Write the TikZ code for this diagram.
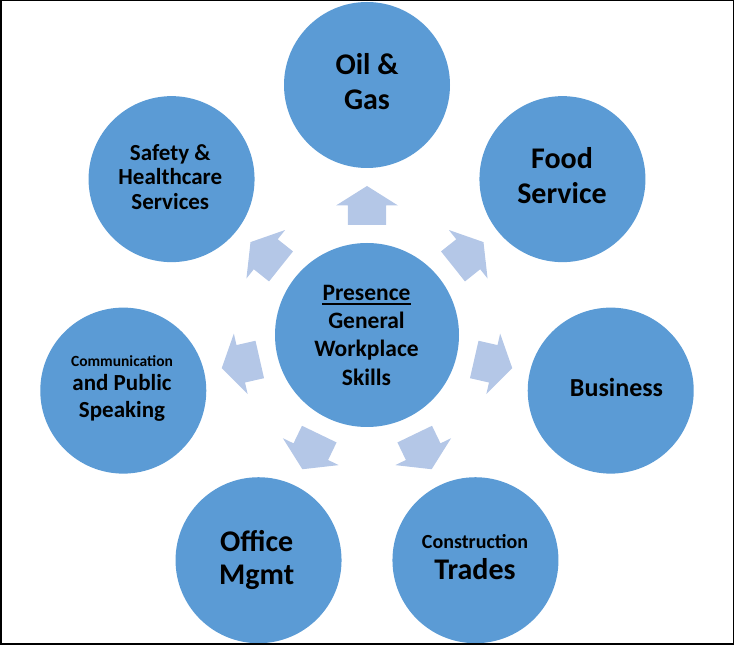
\documentclass[tikz,border=0pt]{standalone}
\usepackage{fontspec}
\setmainfont{Carlito}
\definecolor{cblue}{HTML}{5B9BD5}
\definecolor{ablue}{HTML}{B4C7E7}
\newcommand\fsz[1]{\fontsize{#1}{#1}\selectfont\bfseries}
\begin{document}
\begin{tikzpicture}[x=1pt,y=1pt,
  bubble/.style={circle, fill=cblue, inner sep=0pt, minimum size=166pt},
  hub/.style={circle, fill=cblue, inner sep=0pt, minimum size=184pt},
  txt/.style={inner sep=0pt, anchor=base, text=black},
  blockarrow/.style={fill=ablue}]
\useasboundingbox (0,0) rectangle (734,645);
\coordinate (c) at (367,310);
\node[hub] (hub) at (c) {};
\foreach \n/\a in {oil/90, food/38.571, bus/-12.857, con/-64.286, off/-115.714, com/-167.143, saf/141.429} {
  \path (c) ++(\a:250) node[bubble] (\n) {};
  \begin{scope}[shift={(c)}, rotate=\a]
    \fill[blockarrow] (110,-19.2) -- (129.5,-19.2) -- (129.5,-31) -- (149,0)
      -- (129.5,31) -- (129.5,19.2) -- (110,19.2) -- cycle;
  \end{scope}
}
% Oil & Gas
\node[txt, font=\fsz{30}] (oilA) at (367,570.7) {Oil \&};
\node[txt, font=\fsz{30}] (oilB) at (367,535.7) {Gas};
% Food Service
\node[txt, font=\fsz{30}] (foodA) at (562,476.7) {Food};
\node[txt, font=\fsz{30}] (foodB) at (562,441.7) {Service};
% Safety
\node[txt, font=\fsz{23}] (safA) at (170.3,484.5) {Safety \&};
\node[txt, font=\fsz{23}] (safB) at (170.3,460) {Healthcare};
\node[txt, font=\fsz{23}] (safC) at (170.3,435.5) {Services};
% Business
\node[txt, font=\fsz{26}] (busA) at (616.5,248.3) {Business};
% Communication
\node[txt, font=\fsz{15.5}] (comA) at (122,278.3) {Communication};
\node[txt, font=\fsz{23}] (comB) at (122,254.3) {and Public};
\node[txt, font=\fsz{23}] (comC) at (122,227.7) {Speaking};
% Office Mgmt
\node[txt, font=\fsz{30}] (offA) at (256.7,93.3) {Office};
\node[txt, font=\fsz{30}] (offB) at (256.7,60) {Mgmt};
% Construction Trades
\node[txt, font=\fsz{20}] (conA) at (475,96) {Construction};
\node[txt, font=\fsz{30}] (conB) at (475,65) {Trades};
% Centre
\node[txt, font=\fsz{23.5}] (pres) at (366.5,344) {Presence};
\draw[line width=1.6pt] ([yshift=-3pt]pres.base west) -- ([yshift=-3pt]pres.base east);
\node[txt, font=\fsz{23.5}] (hubB) at (366.5,316) {General};
\node[txt, font=\fsz{23.5}] (hubC) at (366.5,288.3) {Workplace};
\node[txt, font=\fsz{23.5}] (hubD) at (366.5,259) {Skills};
% frame
\draw[line width=1.5pt] (0.75,0.75) rectangle (733.25,644.25);
\end{tikzpicture}
\end{document}
